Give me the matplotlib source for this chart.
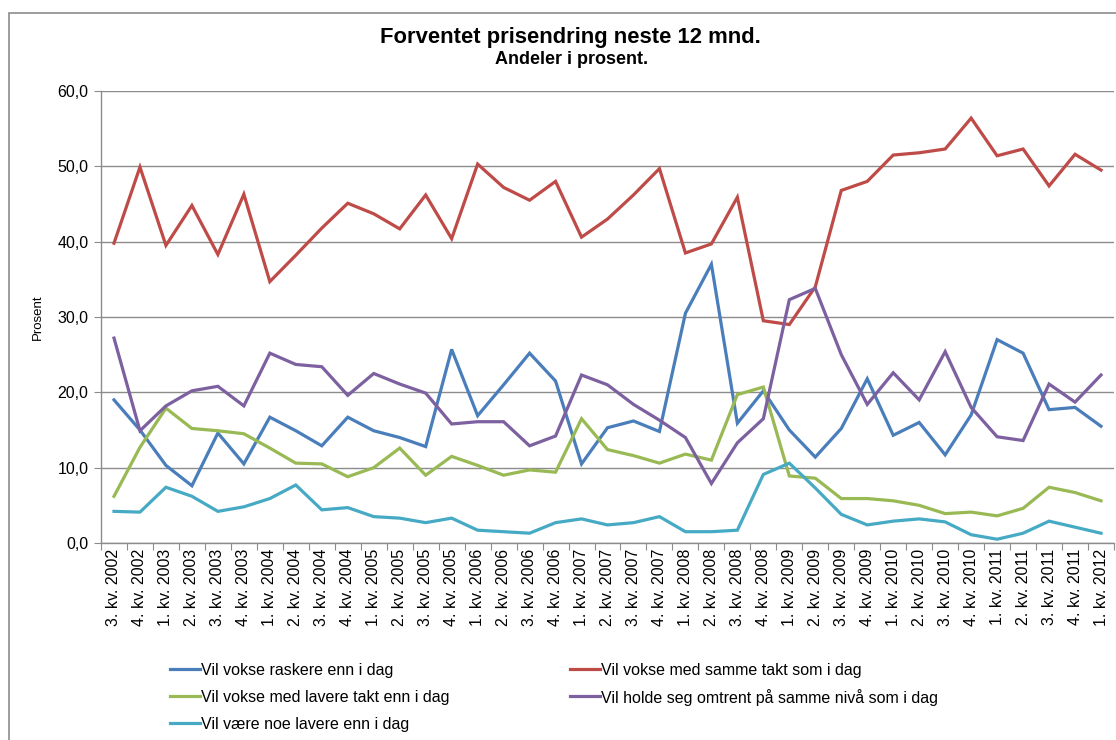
import matplotlib
matplotlib.use("Agg")
import matplotlib.pyplot as plt
from matplotlib.patches import Rectangle
from matplotlib.lines import Line2D

categories = [
    "3. kv. 2002", "4. kv. 2002",
    "1. kv. 2003", "2. kv. 2003", "3. kv. 2003", "4. kv. 2003",
    "1. kv. 2004", "2. kv. 2004", "3. kv. 2004", "4. kv. 2004",
    "1. kv. 2005", "2. kv. 2005", "3. kv. 2005", "4. kv. 2005",
    "1. kv. 2006", "2. kv. 2006", "3. kv. 2006", "4. kv. 2006",
    "1. kv. 2007", "2. kv. 2007", "3. kv. 2007", "4. kv. 2007",
    "1. kv. 2008", "2. kv. 2008", "3. kv. 2008", "4. kv. 2008",
    "1. kv. 2009", "2. kv. 2009", "3. kv. 2009", "4. kv. 2009",
    "1. kv. 2010", "2. kv. 2010", "3. kv. 2010", "4. kv. 2010",
    "1. kv. 2011", "2. kv. 2011", "3. kv. 2011", "4. kv. 2011",
    "1. kv. 2012",
]

raskere = [19.0, 15.0, 10.3, 7.6, 14.6, 10.5, 16.7, 14.9, 12.9, 16.7,
           14.9, 14.0, 12.8, 25.7, 16.9, 21.0, 25.2, 21.5, 10.5, 15.3,
           16.2, 14.8, 30.5, 37.0, 15.9, 20.2, 15.0, 11.4, 15.2, 21.8,
           14.3, 16.0, 11.7, 17.0, 27.0, 25.2, 17.7, 18.0, 15.5]

samme_takt = [39.8, 49.9, 39.5, 44.8, 38.3, 46.3, 34.7, 38.2, 41.8, 45.1,
              43.7, 41.7, 46.2, 40.4, 50.3, 47.2, 45.5, 48.0, 40.6, 43.0,
              46.2, 49.7, 38.5, 39.7, 45.9, 29.5, 29.0, 34.0, 46.8, 48.0,
              51.5, 51.8, 52.3, 56.4, 51.4, 52.3, 47.4, 51.6, 49.5]

lavere_takt = [6.2, 12.7, 17.9, 15.2, 14.9, 14.5, 12.6, 10.6, 10.5, 8.8,
               10.0, 12.6, 9.0, 11.5, 10.3, 9.0, 9.7, 9.4, 16.5, 12.4,
               11.6, 10.6, 11.8, 11.0, 19.7, 20.7, 8.9, 8.6, 5.9, 5.9,
               5.6, 5.0, 3.9, 4.1, 3.6, 4.6, 7.4, 6.7, 5.6]

samme_niva = [27.2, 14.9, 18.2, 20.2, 20.8, 18.2, 25.2, 23.7, 23.4, 19.6,
              22.5, 21.1, 19.9, 15.8, 16.1, 16.1, 12.9, 14.2, 22.3, 21.0,
              18.4, 16.3, 14.0, 7.9, 13.3, 16.5, 32.3, 33.8, 25.0, 18.4,
              22.6, 19.0, 25.4, 18.0, 14.1, 13.6, 21.1, 18.7, 22.3]

noe_lavere = [4.2, 4.1, 7.4, 6.2, 4.2, 4.8, 5.9, 7.7, 4.4, 4.7,
              3.5, 3.3, 2.7, 3.3, 1.7, 1.5, 1.3, 2.7, 3.2, 2.4,
              2.7, 3.5, 1.5, 1.5, 1.7, 9.1, 10.6, 7.3, 3.8, 2.4,
              2.9, 3.2, 2.8, 1.1, 0.5, 1.3, 2.9, 2.1, 1.3]

series_labels = [
    "Vil vokse raskere enn i dag",
    "Vil vokse med samme takt som i dag",
    "Vil vokse med lavere takt enn i dag",
    "Vil holde seg omtrent på samme nivå som i dag",
    "Vil være noe lavere enn i dag",
]
colors = ["#4A7EBB", "#BE4B48", "#98B954", "#7D60A0", "#46AAC5"]
yticks = [0, 10, 20, 30, 40, 50, 60]

plt.rcParams['font.family'] = ['Liberation Sans', 'DejaVu Sans']

W, H = 1116, 740
fig = plt.figure(figsize=(W / 100, H / 100), dpi=100)
fig.patches.append(Rectangle((9 / W, -0.1), 1.2, 1 - 13 / H + 0.1,
                             transform=fig.transFigure, fill=False,
                             edgecolor="#8c8c8c", linewidth=1.2))

ax = fig.add_axes([101 / W, 1 - 543 / H, (1114 - 101) / W, (543 - 91) / H])

x = list(range(len(categories)))
for data, lab, c in zip([raskere, samme_takt, lavere_takt, samme_niva, noe_lavere],
                        series_labels, colors):
    ax.plot(x, data, color=c, linewidth=2.3, label=lab, solid_joinstyle="miter")

ax.set_xlim(-0.5, len(categories) - 0.5)
ax.set_ylim(0, 60)
ax.set_yticks(yticks)
ax.set_yticklabels([f"{v:.1f}".replace(".", ",") for v in yticks], fontsize=11.5)
ax.yaxis.grid(True, color="#8c8c8c", linewidth=1.0)
ax.set_axisbelow(True)

ax.set_xticks([i - 0.5 for i in range(len(categories) + 1)], minor=False)
ax.set_xticklabels([])
ax.set_xticks(x, minor=True)
ax.set_xticklabels(categories, minor=True, rotation=90, fontsize=11.5)
ax.tick_params(axis="x", which="minor", length=0, pad=4)
ax.tick_params(axis="x", which="major", length=5, color="#8c8c8c", direction="out")
ax.tick_params(axis="y", length=5, color="#8c8c8c", direction="out", pad=4)

for s in ["top", "right"]:
    ax.spines[s].set_visible(False)
for s in ["left", "bottom"]:
    ax.spines[s].set_color("#8c8c8c")
    ax.spines[s].set_linewidth(1.0)

ax.set_ylabel("Prosent", fontsize=9.5, labelpad=10)

fig.text(570 / W, 1 - 38 / H, "Forventet prisendring neste 12 mnd.",
         ha="center", va="center", fontsize=15.8, fontweight="bold")
fig.text(572 / W, 1 - 60 / H, "Andeler i prosent.",
         ha="center", va="center", fontsize=13, fontweight="bold")

# legend: two columns, entries laid out row by row
legend_cols = [(170, [0, 2, 4]), (570, [1, 3])]
row_y = [669, 696, 723]
for x0, idxs in legend_cols:
    for r, i in enumerate(idxs):
        yy = 1 - row_y[r] / H
        fig.add_artist(Line2D([x0 / W, (x0 + 30) / W], [yy, yy],
                              transform=fig.transFigure,
                              color=colors[i], linewidth=2.3))
        fig.text((x0 + 31) / W, yy, series_labels[i], ha="left", va="center_baseline",
                 fontsize=11.5)

fig.savefig("out.png", dpi=100)
